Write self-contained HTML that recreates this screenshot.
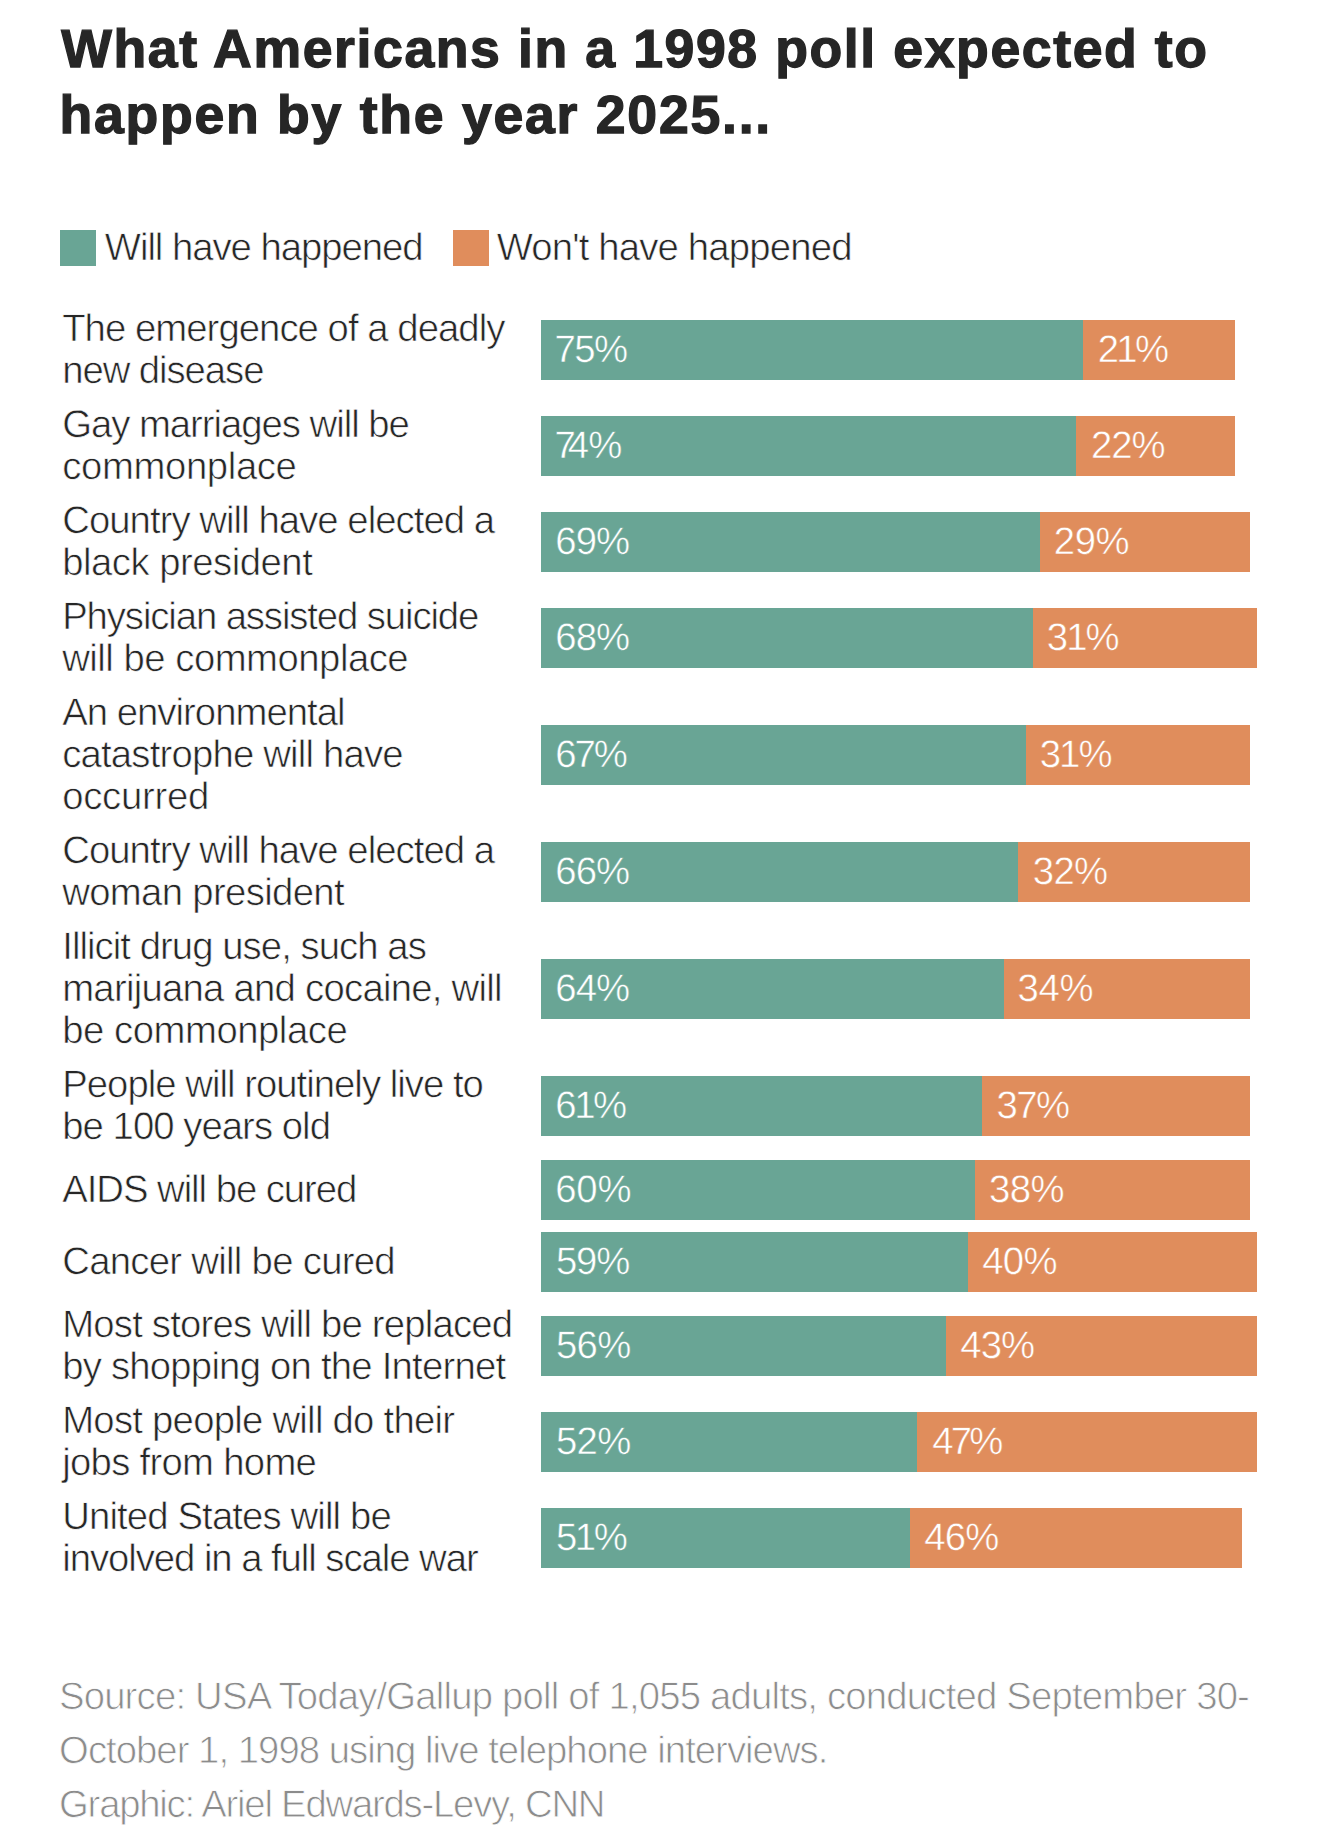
<!DOCTYPE html>
<html lang="en">
<head>
<meta charset="utf-8">
<title>What Americans in a 1998 poll expected to happen by the year 2025</title>
<style>
*{box-sizing:border-box;margin:0;padding:0}
html,body{width:1320px;height:1846px;background:#fff;overflow:hidden}
body{font-family:"Liberation Sans",Arial,Helvetica,sans-serif;color:#262626;position:relative;text-rendering:geometricPrecision}
.chart{position:absolute;left:0;top:0;width:1320px;height:1846px}
.ln{display:inline-block;white-space:nowrap}
h1{position:absolute;left:61px;top:16px;font-size:53.6px;line-height:66px;font-weight:700;white-space:nowrap;color:#262626;-webkit-text-stroke:1.3px #262626}
.thin{font-size:38.3px;font-weight:400;-webkit-text-stroke:0.65px #fff}
.legend{position:absolute;left:60px;top:230px;height:36px;white-space:nowrap;line-height:36px}
.legend .sw{position:absolute;top:0;width:36px;height:36px}
.legend .lb{position:absolute;top:0px;line-height:36px}
.g{background:#69a595}
.o{background:#e08d5c}
.rows{position:absolute;left:0;top:302px;width:1320px;list-style:none}
.row{display:flex;align-items:center;padding:6px 0;min-height:72px}
.row .label{width:541px;flex:none;padding-left:62.2px;line-height:42px;white-space:nowrap;position:relative;top:0px}
.row .bar{display:flex;height:60px;flex:none}
.row .seg{height:60px;color:#fff;line-height:60px;white-space:nowrap;overflow:hidden}
.row .seg{-webkit-text-stroke-width:0.5px}
.row .seg.g{-webkit-text-stroke-color:#69a595}
.row .seg.o{-webkit-text-stroke-color:#e08d5c}
.row .seg .ln{position:relative;top:0px;padding-left:15px}
.k74::first-letter{letter-spacing:-8.2px}
.foot{position:absolute;left:61px;top:1670px;line-height:54px;color:#8c8c8c;white-space:nowrap;-webkit-text-stroke-width:0.8px}
</style>
</head>
<body>
<div class="chart">
<h1><span class="ln" id="t0" style="letter-spacing:1.59px;margin-left:0.31px">What Americans in a 1998 poll expected to</span><br><span class="ln" id="t1" style="letter-spacing:1.74px;margin-left:-1.58px">happen by the year 2025...</span></h1>
<div class="legend thin"><span class="sw g" style="left:0"></span><span class="lb" style="left:46px"><span class="ln" id="g0" style="letter-spacing:-1.04px;margin-left:-1.18px">Will have happened</span></span><span class="sw o" style="left:393px"></span><span class="lb" style="left:438px"><span class="ln" id="g1" style="letter-spacing:-0.83px;margin-left:-1.33px">Won't have happened</span></span></div>
<ul class="rows thin">
<li class="row"><div class="label"><span class="ln" id="l0_0" style="letter-spacing:-0.96px">The emergence of a deadly</span><br><span class="ln" id="l0_1" style="letter-spacing:-1.06px">new disease</span></div><div class="bar"><div class="seg g" style="width:542.4px"><span class="ln" id="a0" style="letter-spacing:-1.51px;margin-left:-1.48px">75%</span></div><div class="seg o" style="width:151.87px"><span class="ln" id="b0" style="letter-spacing:-2.57px;margin-left:-0.76px">21%</span></div></div></li>
<li class="row"><div class="label"><span class="ln" id="l1_0" style="letter-spacing:-1.03px">Gay marriages will be</span><br><span class="ln" id="l1_1" style="letter-spacing:-0.37px">commonplace</span></div><div class="bar"><div class="seg g" style="width:535.17px"><span class="ln k74" id="a1" style="letter-spacing:-0.60px;margin-left:-1.48px">74%</span></div><div class="seg o" style="width:159.1px"><span class="ln" id="b1" style="letter-spacing:-1.02px;margin-left:-0.28px">22%</span></div></div></li>
<li class="row"><div class="label"><span class="ln" id="l2_0" style="letter-spacing:-0.95px">Country will have elected a</span><br><span class="ln" id="l2_1" style="letter-spacing:-0.50px">black president</span></div><div class="bar"><div class="seg g" style="width:499.01px"><span class="ln" id="a2" style="letter-spacing:-0.96px;margin-left:-0.69px">69%</span></div><div class="seg o" style="width:209.73px"><span class="ln" id="b2" style="letter-spacing:-0.48px;margin-left:-1.17px">29%</span></div></div></li>
<li class="row"><div class="label"><span class="ln" id="l3_0" style="letter-spacing:-1.11px">Physician assisted suicide</span><br><span class="ln" id="l3_1" style="letter-spacing:-0.50px">will be commonplace</span></div><div class="bar"><div class="seg g" style="width:491.78px"><span class="ln" id="a3" style="letter-spacing:-0.96px;margin-left:-0.69px">68%</span></div><div class="seg o" style="width:224.19px"><span class="ln" id="b3" style="letter-spacing:-2.02px;margin-left:-0.91px">31%</span></div></div></li>
<li class="row"><div class="label"><span class="ln" id="l4_0" style="letter-spacing:-0.98px">An environmental</span><br><span class="ln" id="l4_1" style="letter-spacing:-0.81px">catastrophe will have</span><br><span class="ln" id="l4_2" style="letter-spacing:-0.28px">occurred</span></div><div class="bar"><div class="seg g" style="width:484.54px"><span class="ln" id="a4" style="letter-spacing:-2.11px;margin-left:-0.69px">67%</span></div><div class="seg o" style="width:224.19px"><span class="ln" id="b4" style="letter-spacing:-1.92px;margin-left:-0.84px">31%</span></div></div></li>
<li class="row"><div class="label"><span class="ln" id="l5_0" style="letter-spacing:-0.95px">Country will have elected a</span><br><span class="ln" id="l5_1" style="letter-spacing:-0.66px">woman president</span></div><div class="bar"><div class="seg g" style="width:477.31px"><span class="ln" id="a5" style="letter-spacing:-0.94px;margin-left:-0.69px">66%</span></div><div class="seg o" style="width:231.42px"><span class="ln" id="b5" style="letter-spacing:-0.56px;margin-left:-0.66px">32%</span></div></div></li>
<li class="row"><div class="label"><span class="ln" id="l6_0" style="letter-spacing:-0.95px">Illicit drug use, such as</span><br><span class="ln" id="l6_1" style="letter-spacing:-0.75px">marijuana and cocaine, will</span><br><span class="ln" id="l6_2" style="letter-spacing:-0.47px">be commonplace</span></div><div class="bar"><div class="seg g" style="width:462.85px"><span class="ln" id="a6" style="letter-spacing:-0.94px;margin-left:-0.69px">64%</span></div><div class="seg o" style="width:245.89px"><span class="ln" id="b6" style="letter-spacing:-0.35px;margin-left:-1.37px">34%</span></div></div></li>
<li class="row"><div class="label"><span class="ln" id="l7_0" style="letter-spacing:-0.98px">People will routinely live to</span><br><span class="ln" id="l7_1" style="letter-spacing:-0.96px">be 100 years old</span></div><div class="bar"><div class="seg g" style="width:441.15px"><span class="ln" id="a7" style="letter-spacing:-2.46px;margin-left:-0.69px">61%</span></div><div class="seg o" style="width:267.58px"><span class="ln" id="b7" style="letter-spacing:-1.59px;margin-left:-0.60px">37%</span></div></div></li>
<li class="row"><div class="label"><span class="ln" id="l8_0" style="letter-spacing:-1.04px">AIDS will be cured</span></div><div class="bar"><div class="seg g" style="width:433.92px"><span class="ln" id="a8" style="letter-spacing:-0.24px;margin-left:-0.69px">60%</span></div><div class="seg o" style="width:274.82px"><span class="ln" id="b8" style="letter-spacing:-0.59px;margin-left:-0.90px">38%</span></div></div></li>
<li class="row"><div class="label"><span class="ln" id="l9_0" style="letter-spacing:-0.71px">Cancer will be cured</span></div><div class="bar"><div class="seg g" style="width:426.69px"><span class="ln" id="a9" style="letter-spacing:-1.16px;margin-left:-0.08px">59%</span></div><div class="seg o" style="width:289.28px"><span class="ln" id="b9" style="letter-spacing:-0.68px;margin-left:-0.52px">40%</span></div></div></li>
<li class="row"><div class="label"><span class="ln" id="l10_0" style="letter-spacing:-0.80px">Most stores will be replaced</span><br><span class="ln" id="l10_1" style="letter-spacing:-0.78px">by shopping on the Internet</span></div><div class="bar"><div class="seg g" style="width:404.99px"><span class="ln" id="a10" style="letter-spacing:-0.66px;margin-left:-0.08px">56%</span></div><div class="seg o" style="width:310.98px"><span class="ln" id="b10" style="letter-spacing:-0.93px;margin-left:-0.70px">43%</span></div></div></li>
<li class="row"><div class="label"><span class="ln" id="l11_0" style="letter-spacing:-0.75px">Most people will do their</span><br><span class="ln" id="l11_1" style="letter-spacing:-0.71px">jobs from home</span></div><div class="bar"><div class="seg g" style="width:376.06px"><span class="ln" id="a11" style="letter-spacing:-0.66px;margin-left:-0.08px">52%</span></div><div class="seg o" style="width:339.9px"><span class="ln" id="b11" style="letter-spacing:-2.72px;margin-left:0.15px">47%</span></div></div></li>
<li class="row"><div class="label"><span class="ln" id="l12_0" style="letter-spacing:-0.87px">United States will be</span><br><span class="ln" id="l12_1" style="letter-spacing:-1.05px">involved in a full scale war</span></div><div class="bar"><div class="seg g" style="width:368.83px"><span class="ln" id="a12" style="letter-spacing:-2.42px;margin-left:-0.08px">51%</span></div><div class="seg o" style="width:332.67px"><span class="ln" id="b12" style="letter-spacing:-0.74px;margin-left:-0.62px">46%</span></div></div></li>
</ul>
<p class="foot thin"><span class="ln" id="f0" style="letter-spacing:-0.81px;margin-left:-2.10px">Source: USA Today/Gallup poll of 1,055 adults, conducted September 30-</span><br><span class="ln" id="f1" style="letter-spacing:-0.98px;margin-left:-1.93px">October 1, 1998 using live telephone interviews.</span><br><span class="ln" id="f2" style="letter-spacing:-1.23px;margin-left:-1.96px">Graphic: Ariel Edwards-Levy, CNN</span></p>
</div>
</body>
</html>
